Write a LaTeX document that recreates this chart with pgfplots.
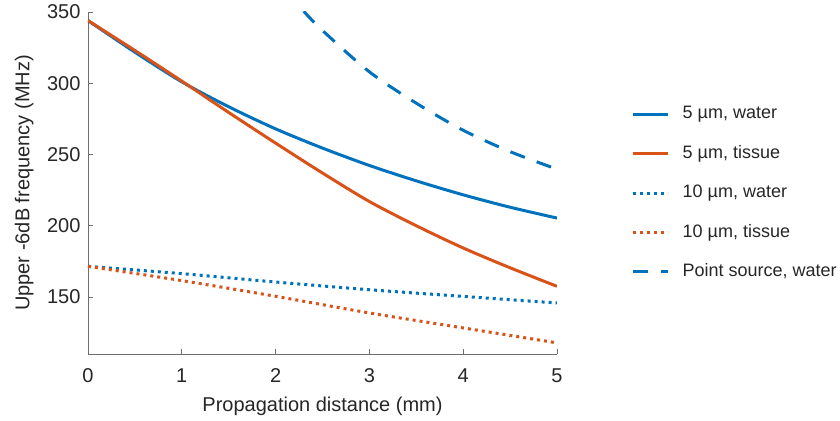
\documentclass[border=0pt]{standalone}
\usepackage{fontspec}
\setmainfont{Liberation Sans}
\usepackage{pgfplots}
\pgfplotsset{compat=1.18}
\definecolor{mblue}{HTML}{0072BD}
\definecolor{morange}{HTML}{D95319}
\definecolor{txt}{HTML}{262626}
\definecolor{axc}{HTML}{6E6E6E}

\begin{document}
\fontsize{15pt}{18pt}\selectfont
\begin{tikzpicture}
  % 1 px of the reference = 0.75pt
  \useasboundingbox (-66pt,-50.25pt) rectangle (564pt,265.5pt);
  \begin{axis}[
    at={(0,0)}, anchor=south west,
    scale only axis,
    width=351.75pt, height=256.5pt,
    xmin=0, xmax=5, ymin=110, ymax=350,
    xtick={0,1,2,3,4,5},
    ytick={150,200,250,300,350},
    axis x line*=bottom, axis y line*=left,
    axis line style={axc, line width=0.6pt},
    tick style={axc, line width=0.6pt},
    tick align=inside,
    major tick length=3.5pt,
    ticklabel style={txt, font=\fontsize{15pt}{18pt}\selectfont},
    /pgf/number format/assume math mode=true,
    xticklabel style={yshift=-6pt},
    yticklabel style={xshift=-0.5pt},
    xlabel={Propagation distance (mm)},
    ylabel={Upper -6dB frequency (MHz)},
    label style={txt, font=\fontsize{15pt}{18pt}\selectfont},
    xlabel style={yshift=0pt},
    ylabel style={yshift=0pt},
    legend style={draw=none, fill=none, at={(1.158,0.4707)}, anchor=west,
      inner sep=0pt, row sep=16.6pt, text=txt,
      font=\fontsize{13.5pt}{16pt}\selectfont,
      nodes={inner sep=0pt, text height=10pt, text depth=3pt}},
    legend cell align=left,
    legend image code/.code={\draw[#1] (0pt,0pt) -- (26.25pt,0pt);},
    /tikz/every odd column/.append style={column sep=10pt},
  ]
    \addplot[mblue, line width=2.25pt, smooth] coordinates {
      (0,344) (0.5,321.8) (1,301) (1.5,283.5) (2,268) (2.5,254.5)
      (3,242.3) (3.5,231.5) (4,221.7) (4.5,213) (5,205.4)
    };
    \addlegendentry{5 µm, water}
    \addplot[morange, line width=2.25pt, smooth] coordinates {
      (0,344) (0.5,323) (1,301.5) (1.5,279.5) (2,258) (2.5,237)
      (3,217) (3.5,200) (4,184.4) (4.5,170.5) (5,157.5)
    };
    \addlegendentry{5 µm, tissue}
    \addplot[mblue, line width=2.25pt, dash pattern=on 2.25pt off 3pt, smooth] coordinates {
      (0,171.5) (1,166.4) (2,160.5) (3,155.1) (4,150.4) (5,145.8)
    };
    \addlegendentry{10 µm, water}
    \addplot[morange, line width=2.25pt, dash pattern=on 2.25pt off 3pt, smooth] coordinates {
      (0,171.5) (1,161.5) (2,150.5) (3,138.8) (4,128.3) (5,117.8)
    };
    \addlegendentry{10 µm, tissue}
    \addplot[mblue, line width=2.25pt, dash pattern=on 11.5pt off 9.5pt, smooth] coordinates {
      (2.3,350.5) (2.5,337) (3,308) (3.5,286) (4,267) (4.5,252) (5,239.7)
    };
    \addlegendentry{Point source, water}
  \end{axis}
\end{tikzpicture}
\end{document}
